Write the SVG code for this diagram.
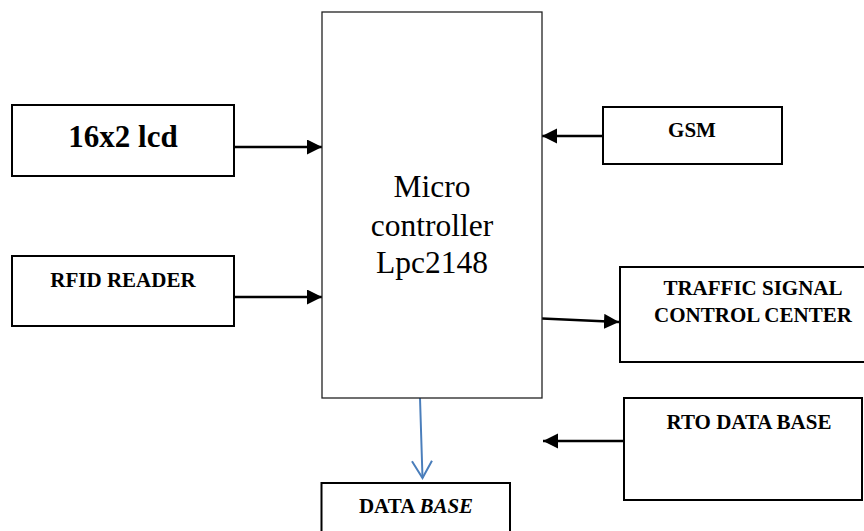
<svg xmlns="http://www.w3.org/2000/svg" width="864" height="531" viewBox="0 0 864 531" font-family="Liberation Serif, serif">
<style>
  .box { fill: #fff; stroke: #000; stroke-width: 2; }
  .mc { fill: #fff; stroke: #222; stroke-width: 1.3; }
  .lbl { font-family: 'Liberation Serif', serif; font-weight: bold; font-size: 21px; fill: #000; text-anchor: middle; }
  .big { font-family: 'Liberation Serif', serif; font-weight: bold; font-size: 31px; fill: #000; text-anchor: middle; }
  .mct { font-family: 'Liberation Serif', serif; font-size: 31.5px; fill: #000; text-anchor: middle; }
  .conn { stroke: #000; stroke-width: 2.5; fill: none; marker-end: url(#ah); }
  .blue { stroke: #4a7ebb; stroke-width: 2; fill: none; marker-end: url(#oah); }
</style>
<defs>
  <marker id="ah" markerUnits="userSpaceOnUse" markerWidth="16" markerHeight="16" refX="15" refY="7.5" orient="auto">
    <path d="M0,0 L15,7.5 L0,15 z" fill="#000"/>
  </marker>
  <marker id="oah" markerUnits="userSpaceOnUse" markerWidth="22" markerHeight="24" refX="18" refY="11" orient="auto">
    <path d="M1,1 L18,11 L1,21" fill="none" stroke="#4a7ebb" stroke-width="2"/>
  </marker>
</defs>
<rect width="864" height="531" fill="#fff"/>

<g id="connectors">
  <line class="conn" x1="234" y1="147" x2="322" y2="147"/>
  <line class="conn" x1="234" y1="297" x2="322" y2="297"/>
  <line class="conn" x1="603" y1="136" x2="542" y2="136"/>
  <line class="conn" x1="542" y1="318.5" x2="619" y2="322"/>
  <line class="conn" x1="623" y1="441" x2="543" y2="441"/>
  <line class="blue" x1="420" y1="398" x2="422.5" y2="478"/>
</g>

<g id="microcontroller">
  <rect class="mc" x="322" y="12" width="220" height="386"/>
  <text class="mct" x="432" y="197">Micro</text>
  <text class="mct" x="432" y="236">controller</text>
  <text class="mct" x="432" y="273">Lpc2148</text>
</g>

<g id="lcd">
  <rect class="box" x="12" y="105" width="222" height="71"/>
  <text class="big" x="123" y="147">16x2 lcd</text>
</g>

<g id="rfid">
  <rect class="box" x="12" y="256" width="222" height="70"/>
  <text class="lbl" x="123" y="287">RFID READER</text>
</g>

<g id="gsm">
  <rect class="box" x="603" y="107" width="179" height="57"/>
  <text class="lbl" x="692" y="137">GSM</text>
</g>

<g id="traffic">
  <rect class="box" x="620" y="267" width="246" height="95"/>
  <text class="lbl" x="753" y="295">TRAFFIC SIGNAL</text>
  <text class="lbl" x="753" y="322">CONTROL CENTER</text>
</g>

<g id="rto">
  <rect class="box" x="624" y="398" width="238" height="102"/>
  <text class="lbl" x="749" y="429">RTO DATA BASE</text>
</g>

<g id="database">
  <rect class="box" x="321.5" y="483" width="188.5" height="60"/>
  <text class="lbl" x="416" y="513">DATA <tspan font-style="italic">BASE</tspan></text>
</g>
</svg>
